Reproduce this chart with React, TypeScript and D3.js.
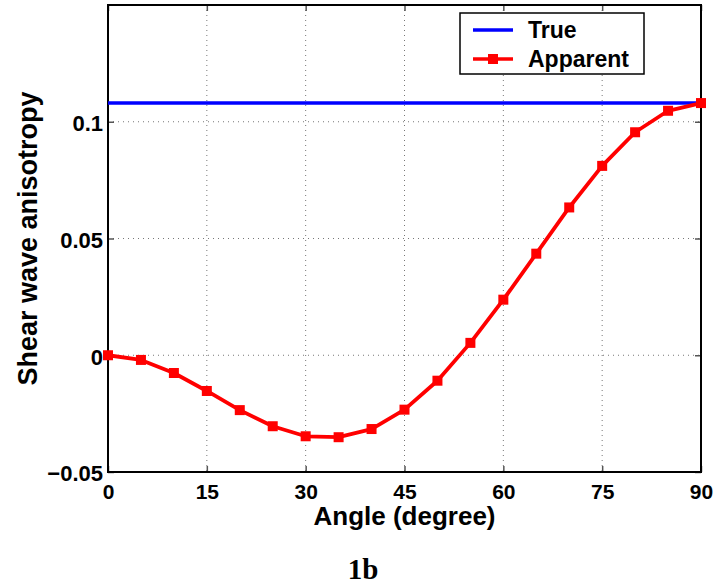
import { useEffect, useRef } from 'react';
import * as d3 from 'd3';

// angles in degrees and apparent anisotropy
const angles = [0, 5, 10, 15, 20, 25, 30, 35, 40, 45, 50, 55, 60, 65, 70, 75, 80, 85, 90];
const apparent = [
  0, -0.002, -0.0076, -0.0153, -0.0235, -0.0304, -0.0347, -0.0351, -0.0316, -0.0233,
  -0.0109, 0.0053, 0.0238, 0.0435, 0.0633, 0.0811, 0.0955, 0.1047, 0.108,
];
const trueValue = 0.108;
const xTicks = [0, 15, 30, 45, 60, 75, 90];
const yTicks = [-0.05, 0, 0.05, 0.1];
const yTickLabels = ['\u22120.05', '0', '0.05', '0.1'];
const seriesNames = ['True', 'Apparent'];

const W = 717;
const H = 586;
const FONT = '"Liberation Sans", Arial, Helvetica, sans-serif';

const App = () => {
  const svgRef = useRef<SVGSVGElement | null>(null);

  useEffect(() => {
    const svg = d3.select(svgRef.current);
    svg.selectAll('*').remove();

    const left = 108, right = 701, top = 5, bottom = 472;

    const x = d3.scaleLinear().domain([0, 90]).range([left, right]);
    const y = d3.scaleLinear().domain([-0.05, 0.15]).range([bottom, top]);

    svg.append('rect').attr('width', W).attr('height', H).attr('fill', '#fff');

    // dotted grid
    const grid = svg.append('g')
      .attr('stroke', '#777')
      .attr('stroke-width', 1)
      .attr('stroke-dasharray', '1,4');
    xTicks.slice(1, -1).forEach(t => {
      grid.append('line')
        .attr('x1', x(t)).attr('x2', x(t))
        .attr('y1', top).attr('y2', bottom);
    });
    yTicks.slice(1).forEach(t => {
      grid.append('line')
        .attr('x1', left).attr('x2', right)
        .attr('y1', y(t)).attr('y2', y(t));
    });

    // inward ticks on all four sides
    const tickLen = 6;
    const tickFmt = (d: d3.NumberValue) => {
      const i = yTicks.indexOf(+d);
      return i >= 0 ? yTickLabels[i] : '';
    };
    const axisStyle = (g: d3.Selection<SVGGElement, unknown, null, undefined>) => {
      g.select('.domain').remove();
      g.selectAll('.tick line').attr('stroke', '#555').attr('stroke-width', 1.5);
      g.selectAll('.tick text')
        .attr('fill', '#000')
        .style('font-family', FONT)
        .style('font-weight', 'bold');
    };

    svg.append('g')
      .attr('transform', `translate(0,${bottom})`)
      .call(d3.axisBottom(x).tickValues(xTicks).tickSizeInner(-tickLen).tickSizeOuter(0).tickPadding(12).tickFormat(d3.format('d')))
      .call(axisStyle)
      .selectAll('.tick text')
      .style('font-size', '21px');

    svg.append('g')
      .attr('transform', `translate(0,${top})`)
      .call(d3.axisTop(x).tickValues(xTicks).tickSizeInner(-tickLen).tickSizeOuter(0).tickFormat(() => ''))
      .call(axisStyle);

    svg.append('g')
      .attr('transform', `translate(${left},0)`)
      .call(d3.axisLeft(y).tickValues(yTicks).tickSizeInner(-tickLen).tickSizeOuter(0).tickPadding(5).tickFormat(tickFmt))
      .call(axisStyle)
      .selectAll('.tick text')
      .attr('dy', '0.4em')
      .style('font-size', '22px');

    svg.append('g')
      .attr('transform', `translate(${right},0)`)
      .call(d3.axisRight(y).tickValues(yTicks).tickSizeInner(-tickLen).tickSizeOuter(0).tickFormat(() => ''))
      .call(axisStyle);

    // box
    svg.append('rect')
      .attr('x', left).attr('y', top)
      .attr('width', right - left).attr('height', bottom - top)
      .attr('fill', 'none')
      .attr('stroke', '#000')
      .attr('stroke-width', 2);

    // true value line
    svg.append('line')
      .attr('x1', x(0)).attr('x2', x(90))
      .attr('y1', y(trueValue)).attr('y2', y(trueValue))
      .attr('stroke', '#0000ff')
      .attr('stroke-width', 3.5);

    // apparent series
    const pts = angles.map((a, i) => [a, apparent[i]] as [number, number]);
    const line = d3.line<[number, number]>().x(d => x(d[0])).y(d => y(d[1]));
    svg.append('path')
      .attr('d', line(pts))
      .attr('fill', 'none')
      .attr('stroke', '#ff0000')
      .attr('stroke-width', 3.8)
      .attr('stroke-linejoin', 'round');

    const ms = 10;
    svg.append('g')
      .selectAll('rect')
      .data(pts)
      .enter()
      .append('rect')
      .attr('x', d => x(d[0]) - ms / 2)
      .attr('y', d => y(d[1]) - ms / 2)
      .attr('width', ms)
      .attr('height', ms)
      .attr('fill', '#ff0000');

    // axis labels
    svg.append('text')
      .attr('x', (left + right) / 2)
      .attr('y', 525)
      .attr('text-anchor', 'middle')
      .style('font-family', FONT)
      .style('font-weight', 'bold')
      .style('font-size', '26px')
      .text('Angle (degree)');

    svg.append('text')
      .attr('transform', `translate(37,${(top + bottom) / 2}) rotate(-90)`)
      .attr('text-anchor', 'middle')
      .style('font-family', FONT)
      .style('font-weight', 'bold')
      .style('font-size', '27px')
      .text('Shear wave anisotropy');

    svg.append('text')
      .attr('x', 363)
      .attr('y', 579)
      .attr('text-anchor', 'middle')
      .style('font-family', '"Liberation Serif", "Times New Roman", serif')
      .style('font-weight', 'bold')
      .style('font-size', '29px')
      .text('1b');

    // legend
    const lg = svg.append('g');
    lg.append('rect')
      .attr('x', 460).attr('y', 13)
      .attr('width', 184).attr('height', 61)
      .attr('fill', '#fff')
      .attr('stroke', '#000')
      .attr('stroke-width', 1.5);
    const rows = [
      { name: seriesNames[0], color: '#0000ff', y: 30, marker: false },
      { name: seriesNames[1], color: '#ff0000', y: 59, marker: true },
    ];
    rows.forEach(r => {
      lg.append('line')
        .attr('x1', 473).attr('x2', 513)
        .attr('y1', r.y).attr('y2', r.y)
        .attr('stroke', r.color)
        .attr('stroke-width', 3.5);
      if (r.marker) {
        lg.append('rect')
          .attr('x', 493 - ms / 2).attr('y', r.y - ms / 2)
          .attr('width', ms).attr('height', ms)
          .attr('fill', r.color);
      }
      lg.append('text')
        .attr('x', 528)
        .attr('y', r.y + 8)
        .style('font-family', FONT)
        .style('font-weight', 'bold')
        .style('font-size', '23px')
        .text(r.name);
    });
  }, []);

  return (
    <div style={{ position: 'absolute', left: 0, top: 0 }}>
      <svg ref={svgRef} width={W} height={H} style={{ display: 'block' }}></svg>
    </div>
  );
};

export default App;
